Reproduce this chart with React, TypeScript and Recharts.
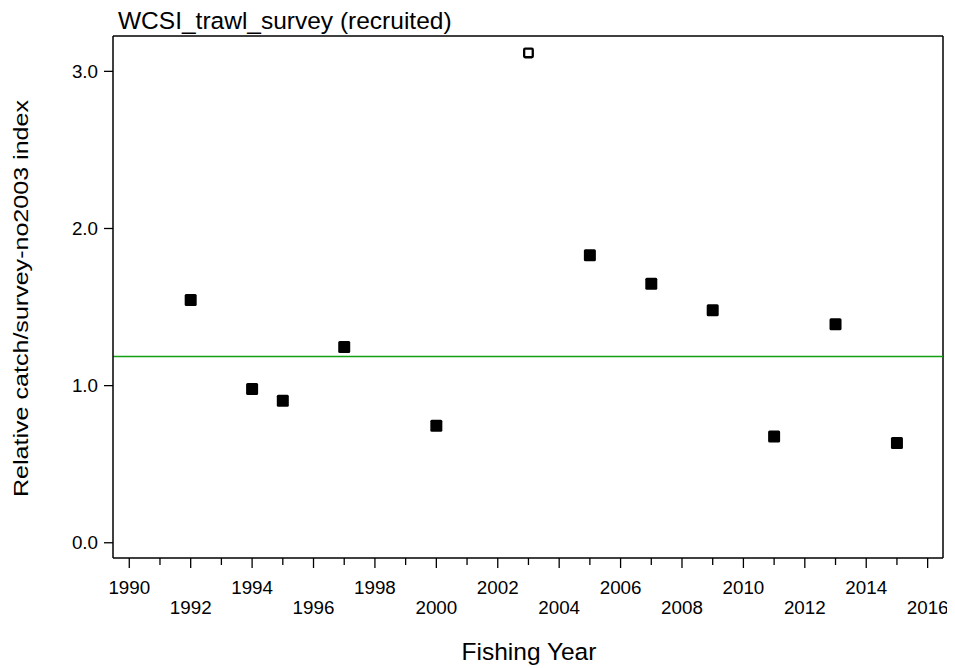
import React from "react";
import {
  ScatterChart,
  Scatter,
  XAxis,
  YAxis,
  ReferenceLine,
} from "recharts";

// Survey years used in the fit and their relative index values
const fittedYears = [1992, 1994, 1995, 1997, 2000, 2005, 2007, 2009, 2011, 2013, 2015];
const fittedIndex = [1.545, 0.978, 0.904, 1.246, 0.745, 1.829, 1.649, 1.479, 0.677, 1.39, 0.635];

// Year left out of the fit (drawn as an open square)
const excludedYears = [2003];
const excludedIndex = [3.117];

// Mean of the index
const meanIndex = 1.186;

const xTicks = [
  1990, 1991, 1992, 1993, 1994, 1995, 1996, 1997, 1998, 1999, 2000, 2001, 2002, 2003,
  2004, 2005, 2006, 2007, 2008, 2009, 2010, 2011, 2012, 2013, 2014, 2015, 2016,
];
const yTicks = [0, 1, 2, 3];

const titleText = "WCSI_trawl_survey (recruited)";
const xLabelText = "Fishing Year";
const yLabelText = "Relative catch/survey-no2003 index";

const fittedData = fittedYears.map((year, i) => ({ year, value: fittedIndex[i] }));
const excludedData = excludedYears.map((year, i) => ({ year, value: excludedIndex[i] }));

const FONT = "'Liberation Sans', Arial, Helvetica, sans-serif";
const W = 947;
const H = 660;
const X_DOMAIN: [number, number] = [1989.47, 2016.5];
const Y_DOMAIN: [number, number] = [-0.097, 3.225];

const FilledSquare = (props: any) => {
  const { cx, cy } = props;
  if (cx == null || cy == null) return null;
  return <rect x={cx - 6} y={cy - 6} width={12} height={12} rx={1.5} fill="#000" />;
};

const OpenSquare = (props: any) => {
  const { cx, cy } = props;
  if (cx == null || cy == null) return null;
  return (
    <rect
      x={cx - 4.3}
      y={cy - 4.3}
      width={8.6}
      height={8.6}
      rx={1}
      fill="#fff"
      stroke="#000"
      strokeWidth={2.3}
    />
  );
};

// Year ticks: every year gets a tick, even years get a longer tick and a label,
// labels alternate between two rows.
const YearTick = (props: any) => {
  const { x, y, payload } = props;
  const year = payload.value as number;
  const even = year % 2 === 0;
  const upperRow = (year - 1990) % 4 === 0;
  return (
    <g>
      <line x1={x} y1={y} x2={x} y2={y + (even ? 10 : 7)} stroke="#000" strokeWidth={1.3} />
      {even && (
        <text
          x={x}
          y={y + (upperRow ? 35.5 : 56)}
          textAnchor="middle"
          fontFamily={FONT}
          fontSize={18.8}
          fill="#000"
        >
          {year}
        </text>
      )}
    </g>
  );
};

export default function App() {
  return (
    <div style={{ position: "relative", width: W, height: H, background: "#fff" }}>
      <ScatterChart
        width={W}
        height={H}
        margin={{ top: 28, right: 12, bottom: 50, left: 45 }}
      >
        <XAxis
          type="number"
          dataKey="year"
          domain={X_DOMAIN}
          ticks={xTicks}
          interval={0}
          allowDataOverflow
          tickLine={false}
          tickSize={0}
          tickMargin={0}
          tick={<YearTick />}
          height={60}
          axisLine={{ stroke: "#000", strokeWidth: 1.5 }}
        />
        <YAxis
          type="number"
          dataKey="value"
          domain={Y_DOMAIN}
          ticks={yTicks}
          interval={0}
          allowDataOverflow
          width={60}
          tickSize={9}
          tickMargin={6}
          tickFormatter={(v: number) => v.toFixed(1)}
          tick={{ fill: "#000", fontSize: 18.8, fontFamily: FONT }}
          tickLine={{ stroke: "#000", strokeWidth: 1.3 }}
          axisLine={{ stroke: "#000", strokeWidth: 1.5 }}
        />
        {/* frame: top and right edges */}
        <ReferenceLine y={Y_DOMAIN[1]} stroke="#000" strokeWidth={1.5} />
        <ReferenceLine x={X_DOMAIN[1]} stroke="#000" strokeWidth={1.5} />
        <ReferenceLine y={meanIndex} stroke="#13a013" strokeWidth={1.5} />
        <Scatter data={fittedData} shape={<FilledSquare />} isAnimationActive={false} />
        <Scatter data={excludedData} shape={<OpenSquare />} isAnimationActive={false} />
      </ScatterChart>
      <svg
        width={W}
        height={H}
        overflow="visible"
        style={{ position: "absolute", left: 0, top: 0, pointerEvents: "none", overflow: "visible" }}
      >
        <text x={110} y={20.5} fontFamily={FONT} fontSize={24.5} fill="#000">
          {titleText}
        </text>
        <text x={521} y={652} textAnchor="middle" fontFamily={FONT} fontSize={24.5} fill="#000">
          {xLabelText}
        </text>
        <text
          x={19.5}
          y={290.5}
          textAnchor="middle"
          fontFamily={FONT}
          fontSize={21}
          textLength={397}
          lengthAdjust="spacingAndGlyphs"
          fill="#000"
          transform="rotate(-90 19.5 290.5)"
        >
          {yLabelText}
        </text>
      </svg>
    </div>
  );
}
